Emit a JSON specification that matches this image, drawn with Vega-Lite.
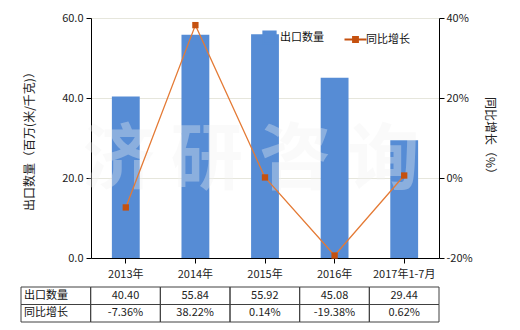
{
  "$schema": "https://vega.github.io/schema/vega-lite/v6.json",
  "padding": {"left": 20, "top": 12, "right": 10, "bottom": 0},
  "background": "white",
  "data": {"values": [
    {"year": "2013年", "qty": 40.40, "growth": -0.0736},
    {"year": "2014年", "qty": 55.84, "growth": 0.3822},
    {"year": "2015年", "qty": 55.92, "growth": 0.0014},
    {"year": "2016年", "qty": 45.08, "growth": -0.1938},
    {"year": "2017年1-7月", "qty": 29.44, "growth": 0.0062}
  ]},
  "spacing": 29,
  "bounds": "flush",
  "resolve": {"scale": {"x": "independent", "y": "independent"}},
  "config": {
    "font": "Noto Sans CJK SC",
    "view": {"stroke": null},
    "locale": {"number": {"decimal": ".", "thousands": ",", "grouping": [3], "currency": ["$", ""], "minus": "-"}},
    "axis": {"labelFont": "Noto Sans CJK SC", "labelFontSize": 11, "labelColor": "#222", "domainColor": "#000", "tickColor": "#000", "titleFont": "Noto Sans CJK SC", "titleFontWeight": "normal", "titleColor": "#222", "titleFontSize": 12},
    "text": {"font": "Noto Sans CJK SC"}
  },
  "vconcat": [
    {
      "width": 348,
      "height": 240,
      "encoding": {
        "x": {"field": "year", "type": "nominal", "sort": null,
          "scale": {"paddingInner": 0, "paddingOuter": 0},
          "axis": {"title": null, "labelAngle": 0, "tickSize": 5, "labelPadding": 5, "domainColor": "#000"}}
      },
      "layer": [
        {
          "layer": [
            {
              "mark": {"type": "bar", "width": {"band": 0.4}},
              "encoding": {
                "y": {"field": "qty", "type": "quantitative", "scale": {"domain": [0, 60]},
                  "axis": {"title": "出口数量（百万(米/千克)）", "values": [0, 20, 40, 60], "format": ".1f", "grid": true, "gridColor": "#E6E6DC", "tickSize": 5, "labelPadding": 3, "titlePadding": 25}},
                "color": {"datum": "出口数量", "type": "nominal",
                  "scale": {"domain": ["出口数量", "同比增长"], "range": ["#568CD5", "#C5510F"]},
                  "legend": {"title": null, "orient": "none", "legendX": 171, "legendY": 12, "direction": "horizontal",
                    "labelFontSize": 11, "labelColor": "#111", "labelOffset": 3, "columnPadding": 16, "symbolSize": 484,
                    "labelFont": "Noto Sans CJK SC",
                    "encode": {"symbols": {"update": {
                      "shape": {"signal": "datum.value === '同比增长' ? 'M-1,0H1M-0.22,-0.22H0.22V0.22H-0.22Z' : 'square'"},
                      "size": {"signal": "datum.value === '同比增长' ? 484 : 150"},
                      "fill": {"signal": "datum.value === '同比增长' ? '#C5510F' : '#568CD5'"},
                      "stroke": {"signal": "datum.value === '同比增长' ? '#C5510F' : '#568CD5'"},
                      "strokeWidth": {"value": 2},
                      "opacity": {"value": 1}
                    }}}}}
              }
            },
            {
              "data": {"values": [{"wm": "济 研 咨 询"}]},
              "mark": {"type": "text", "fontSize": 72, "fontWeight": "bold", "font": "Noto Sans CJK SC", "color": "#F2F2F2", "opacity": 0.34, "baseline": "middle", "dx": -14},
              "encoding": {
                "x": {"datum": "2015年", "type": "nominal"},
                "y": {"datum": 24.3, "type": "quantitative"},
                "text": {"field": "wm"}
              }
            }
          ]
        },
        {
          "layer": [
            {
              "mark": {"type": "line", "color": "#E47A35", "strokeWidth": 1.3},
              "encoding": {
                "y": {"field": "growth", "type": "quantitative", "scale": {"domain": [-0.2, 0.4]},
                  "axis": {"orient": "right", "title": "同比增长（%）", "values": [-0.2, 0, 0.2, 0.4], "format": ".0%", "grid": false, "tickSize": 5, "labelPadding": 2, "titlePadding": 10}}
              }
            },
            {
              "mark": {"type": "square", "size": 40, "color": "#C5510F", "opacity": 1},
              "encoding": {
                "y": {"field": "growth", "type": "quantitative"}
              }
            }
          ]
        }
      ],
      "resolve": {"scale": {"y": "independent"}}
    },
    {
      "width": 348,
      "height": 35,
      "layer": [
        {
          "transform": [{"fold": ["qty", "growth"], "as": ["row", "v"]}],
          "mark": {"type": "rect", "fill": "white", "fillOpacity": 0, "stroke": "#404040", "strokeWidth": 1},
          "encoding": {
            "x": {"field": "year", "type": "nominal", "sort": null,
              "scale": {"domain": ["label", "2013年", "2014年", "2015年", "2016年", "2017年1-7月"], "range": [-70, 348], "paddingInner": 0, "paddingOuter": 0}, "axis": null},
            "y": {"field": "row", "type": "nominal", "scale": {"domain": ["qty", "growth"], "paddingInner": 0, "paddingOuter": 0}, "axis": null}
          }
        },
        {
          "data": {"values": [{"row": "qty", "name": "出口数量"}, {"row": "growth", "name": "同比增长"}]},
          "layer": [
            {
              "mark": {"type": "rect", "fill": "white", "fillOpacity": 0, "stroke": "#404040", "strokeWidth": 1},
              "encoding": {
                "x": {"datum": "label", "type": "nominal"},
                "y": {"field": "row", "type": "nominal"}
              }
            },
            {
              "mark": {"type": "text", "align": "left", "dx": 3, "fontSize": 11, "color": "#111"},
              "encoding": {
                "x": {"datum": "label", "type": "nominal", "bandPosition": 0},
                "y": {"field": "row", "type": "nominal"},
                "text": {"field": "name"}
              }
            }
          ]
        },
        {
          "mark": {"type": "text", "fontSize": 11, "color": "#222"},
          "encoding": {
            "x": {"field": "year", "type": "nominal"},
            "y": {"datum": "qty", "type": "nominal"},
            "text": {"field": "qty", "format": ".2f"}
          }
        },
        {
          "mark": {"type": "text", "fontSize": 11, "color": "#222"},
          "encoding": {
            "x": {"field": "year", "type": "nominal"},
            "y": {"datum": "growth", "type": "nominal"},
            "text": {"field": "growth", "format": ".2%"}
          }
        }
      ]
    }
  ]
}
